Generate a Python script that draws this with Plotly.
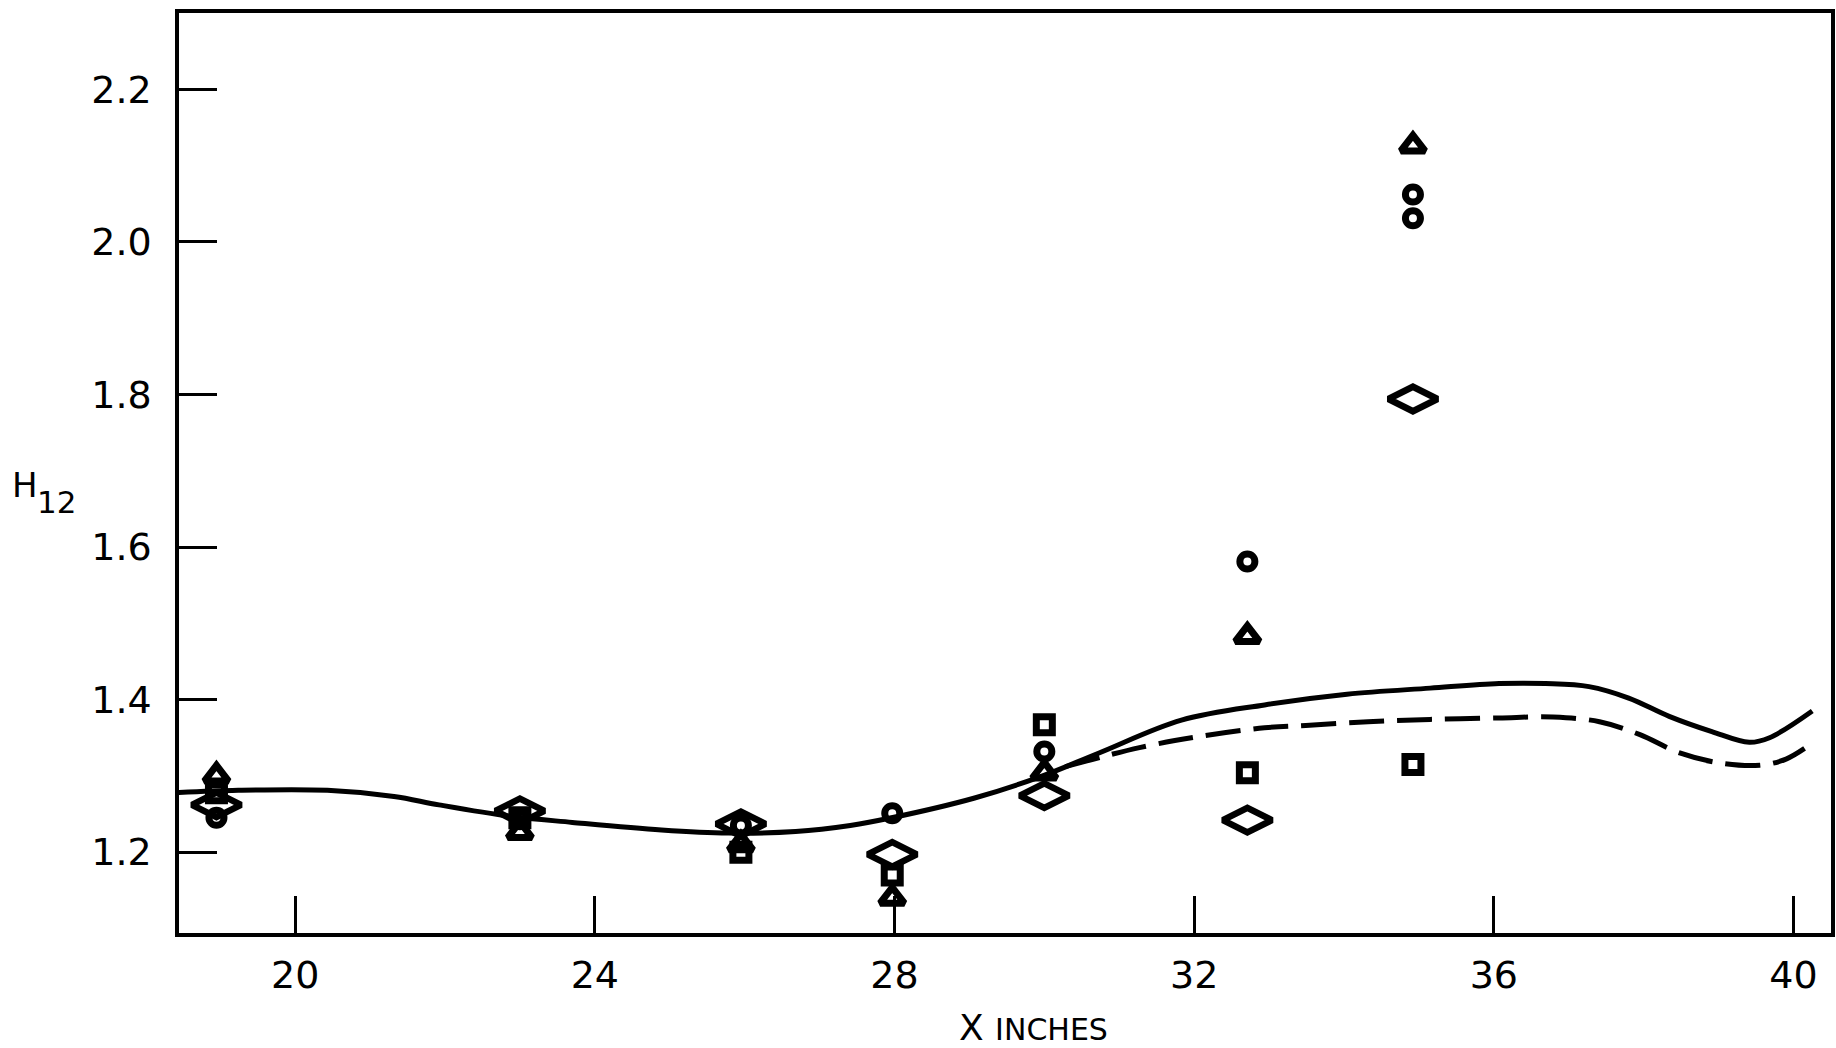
import plotly.graph_objects as go

# ---- data ----
solid_x = [18.44, 19.24, 20.43, 21.32, 21.92, 22.87, 23.7, 24.89, 25.78, 26.68, 27.41, 27.96,
           29.07, 29.95, 30.73, 31.83, 32.94, 34.04, 35.15, 36.07, 36.69, 37.27, 37.8, 38.34,
           38.91, 39.41, 39.68, 40.25]
solid_y = [1.278, 1.281, 1.281, 1.273, 1.262, 1.247, 1.239, 1.229, 1.225, 1.227, 1.235, 1.245,
           1.271, 1.299, 1.330, 1.373, 1.393, 1.407, 1.415, 1.421, 1.421, 1.417, 1.402, 1.378,
           1.358, 1.344, 1.350, 1.385]

dash_x = [30.28, 31.27, 32.1, 32.94, 33.49, 34.32, 35.15, 36.07, 36.79, 37.41, 37.95, 38.48,
          39.01, 39.55, 39.9, 40.25]
dash_y = [1.312, 1.337, 1.352, 1.363, 1.366, 1.371, 1.374, 1.376, 1.377, 1.371, 1.354, 1.330,
          1.317, 1.314, 1.322, 1.343]

circle_x = [18.95, 23.0, 25.95, 27.97, 30.0, 32.71, 34.92, 34.92]
circle_y = [1.245, 1.243, 1.235, 1.251, 1.332, 1.581, 2.062, 2.031]

triangle_x = [18.95, 23.0, 25.95, 27.97, 30.0, 32.71, 34.92]
triangle_y = [1.300, 1.226, 1.210, 1.140, 1.304, 1.483, 2.126]

square_x = [18.95, 23.0, 25.95, 27.97, 30.0, 32.71, 34.92]
square_y = [1.278, 1.245, 1.200, 1.170, 1.367, 1.304, 1.315]

diamond_x = [18.95, 23.0, 25.95, 27.97, 30.0, 32.71, 34.92]
diamond_y = [1.262, 1.254, 1.237, 1.197, 1.274, 1.242, 1.794]

x_ticks = [20, 24, 28, 32, 36, 40]
y_ticks = [1.2, 1.4, 1.6, 1.8, 2.0, 2.2]
y_tick_labels = ["1.2", "1.4", "1.6", "1.8", "2.0", "2.2"]

FONT = "DejaVu Sans"
INK = "black"

fig = go.Figure()

fig.add_trace(go.Scatter(x=solid_x, y=solid_y, mode="lines",
                         line=dict(color=INK, width=5, shape="spline", smoothing=1.0),
                         showlegend=False, hoverinfo="skip"))
fig.add_trace(go.Scatter(x=dash_x, y=dash_y, mode="lines",
                         line=dict(color=INK, width=5, shape="spline", smoothing=1.0,
                                   dash="35px,13px"),
                         showlegend=False, hoverinfo="skip"))

fig.add_trace(go.Scatter(x=circle_x, y=circle_y, mode="markers",
                         marker=dict(symbol="circle-open", size=15, color=INK,
                                     line=dict(width=7, color=INK)),
                         showlegend=False))
fig.add_trace(go.Scatter(x=triangle_x, y=triangle_y, mode="markers",
                         marker=dict(symbol="triangle-up-open", size=21, color=INK,
                                     line=dict(width=7, color=INK)),
                         showlegend=False))
fig.add_trace(go.Scatter(x=square_x, y=square_y, mode="markers",
                         marker=dict(symbol="square-open", size=16, color=INK,
                                     line=dict(width=7, color=INK)),
                         showlegend=False))
fig.add_trace(go.Scatter(x=diamond_x, y=diamond_y, mode="markers",
                         marker=dict(symbol="diamond-wide-open", size=35, color=INK,
                                     line=dict(width=6.5, color=INK)),
                         showlegend=False))

fig.update_layout(
    width=1836, height=1048,
    margin=dict(l=179, r=1, t=13, b=115),
    paper_bgcolor="white", plot_bgcolor="white",
    font=dict(family=FONT, color=INK, size=38),
    showlegend=False,
)

fig.update_xaxes(range=[18.45, 40.5], tickvals=x_ticks, ticktext=[str(v) for v in x_ticks],
                 ticks="inside", ticklen=37, tickwidth=2.5, tickcolor=INK,
                 showline=True, linewidth=3.5, linecolor=INK, mirror=True,
                 showgrid=False, zeroline=False, ticklabelstandoff=6,
                 tickfont=dict(family=FONT, size=38, color=INK))
fig.update_yaxes(range=[1.094, 2.300], tickvals=y_ticks, ticktext=y_tick_labels,
                 ticks="inside", ticklen=38, tickwidth=2.5, tickcolor=INK,
                 showline=True, linewidth=3.5, linecolor=INK, mirror=True,
                 showgrid=False, zeroline=False, ticklabelstandoff=16,
                 tickfont=dict(family=FONT, size=38, color=INK))

fig.add_annotation(xref="paper", yref="paper", x=0.517, y=-0.103,
                   text="X <span style='font-size:30px'>INCHES</span>",
                   showarrow=False, xanchor="center", yanchor="middle",
                   font=dict(family=FONT, size=36, color=INK))
fig.add_annotation(xref="paper", yref="paper", x=-0.0931, y=0.487,
                   text="H", showarrow=False, xanchor="center", yanchor="middle",
                   font=dict(family=FONT, size=34, color=INK))
fig.add_annotation(xref="paper", yref="paper", x=-0.0743, y=0.4685,
                   text="12", showarrow=False, xanchor="center", yanchor="middle",
                   font=dict(family=FONT, size=31, color=INK))

fig.write_html("out.html")
